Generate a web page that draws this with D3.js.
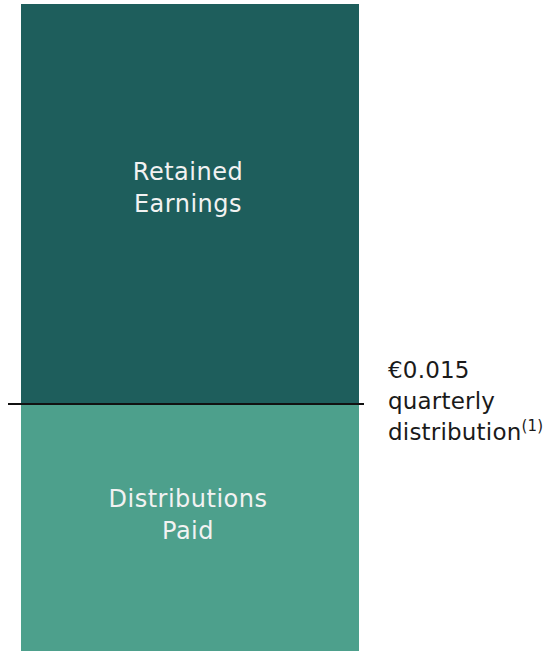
<!DOCTYPE html>
<html>
<head>
<meta charset="utf-8">
<script src="https://cdn.jsdelivr.net/npm/d3@7"></script>
<style>
  body { margin: 0; background: #fff; }
  text { font-family: "DejaVu Sans", Verdana, sans-serif; }
</style>
</head>
<body>
<div class="content"></div>
<script>
// one stacked bar, bottom to top
var categories = ["Distributions Paid", "Retained Earnings"];
var labelLines = [["Distributions", "Paid"], ["Retained", "Earnings"]];
var values = [0.015, 0.0243];
var colors = ["#4da08c", "#1e5e5c"];
var markerValue = 0.015;
var markerLines = ["€0.015", "quarterly", "distribution"];

var width = 550, height = 651;

var svg = d3.select('.content').append("svg").attr("width", width).attr("height", height);

var total = d3.sum(values);
var y = d3.scaleLinear().domain([0, total]).range([651, 4]);
var x = d3.scaleBand().domain(["bar"]).range([21, 359]).padding(0);

var stacked = [];
var acc = 0;
values.forEach(function(v, i) {
	stacked.push({name: categories[i], y0: acc, y1: acc + v, lines: labelLines[i], color: colors[i]});
	acc += v;
});

svg.selectAll("rect.seg").data(stacked).enter().append("rect")
	.attr("class", "seg")
	.attr("x", x("bar"))
	.attr("width", x.bandwidth())
	.attr("y", function(d){ return y(d.y1); })
	.attr("height", function(d){ return y(d.y0) - y(d.y1); })
	.attr("fill", function(d){ return d.color; });

// segment labels
var cx = x("bar") + x.bandwidth() / 2 - 2;
var lbl = svg.selectAll("text.seg").data(stacked).enter().append("text")
	.attr("class", "seg")
	.attr("text-anchor", "middle")
	.attr("fill", "#f2f2f2")
	.attr("font-size", 24)
	.attr("letter-spacing", 0.5)
	.attr("x", cx)
	.attr("y", function(d, i){ return i == 0 ? 507 : 180; });
lbl.selectAll("tspan").data(function(d){ return d.lines; }).enter().append("tspan")
	.attr("x", cx)
	.attr("dy", function(d, i){ return i == 0 ? 0 : 32; })
	.text(function(d){ return d; });

// marker line at the distribution level
svg.append("line")
	.attr("x1", 8).attr("x2", 364)
	.attr("y1", y(markerValue)).attr("y2", y(markerValue))
	.attr("stroke", "#111").attr("stroke-width", 2);

var ann = svg.append("text")
	.attr("x", 388).attr("y", 378)
	.attr("fill", "#1a1a1a")
	.attr("font-size", 23)
	.attr("letter-spacing", 0.2);
markerLines.forEach(function(t, i) {
	ann.append("tspan").attr("x", 388).attr("dy", i == 0 ? 0 : 31).text(t);
});
ann.append("tspan").attr("font-size", 15).attr("dy", -9).text("(1)");
</script>
</body>
</html>
